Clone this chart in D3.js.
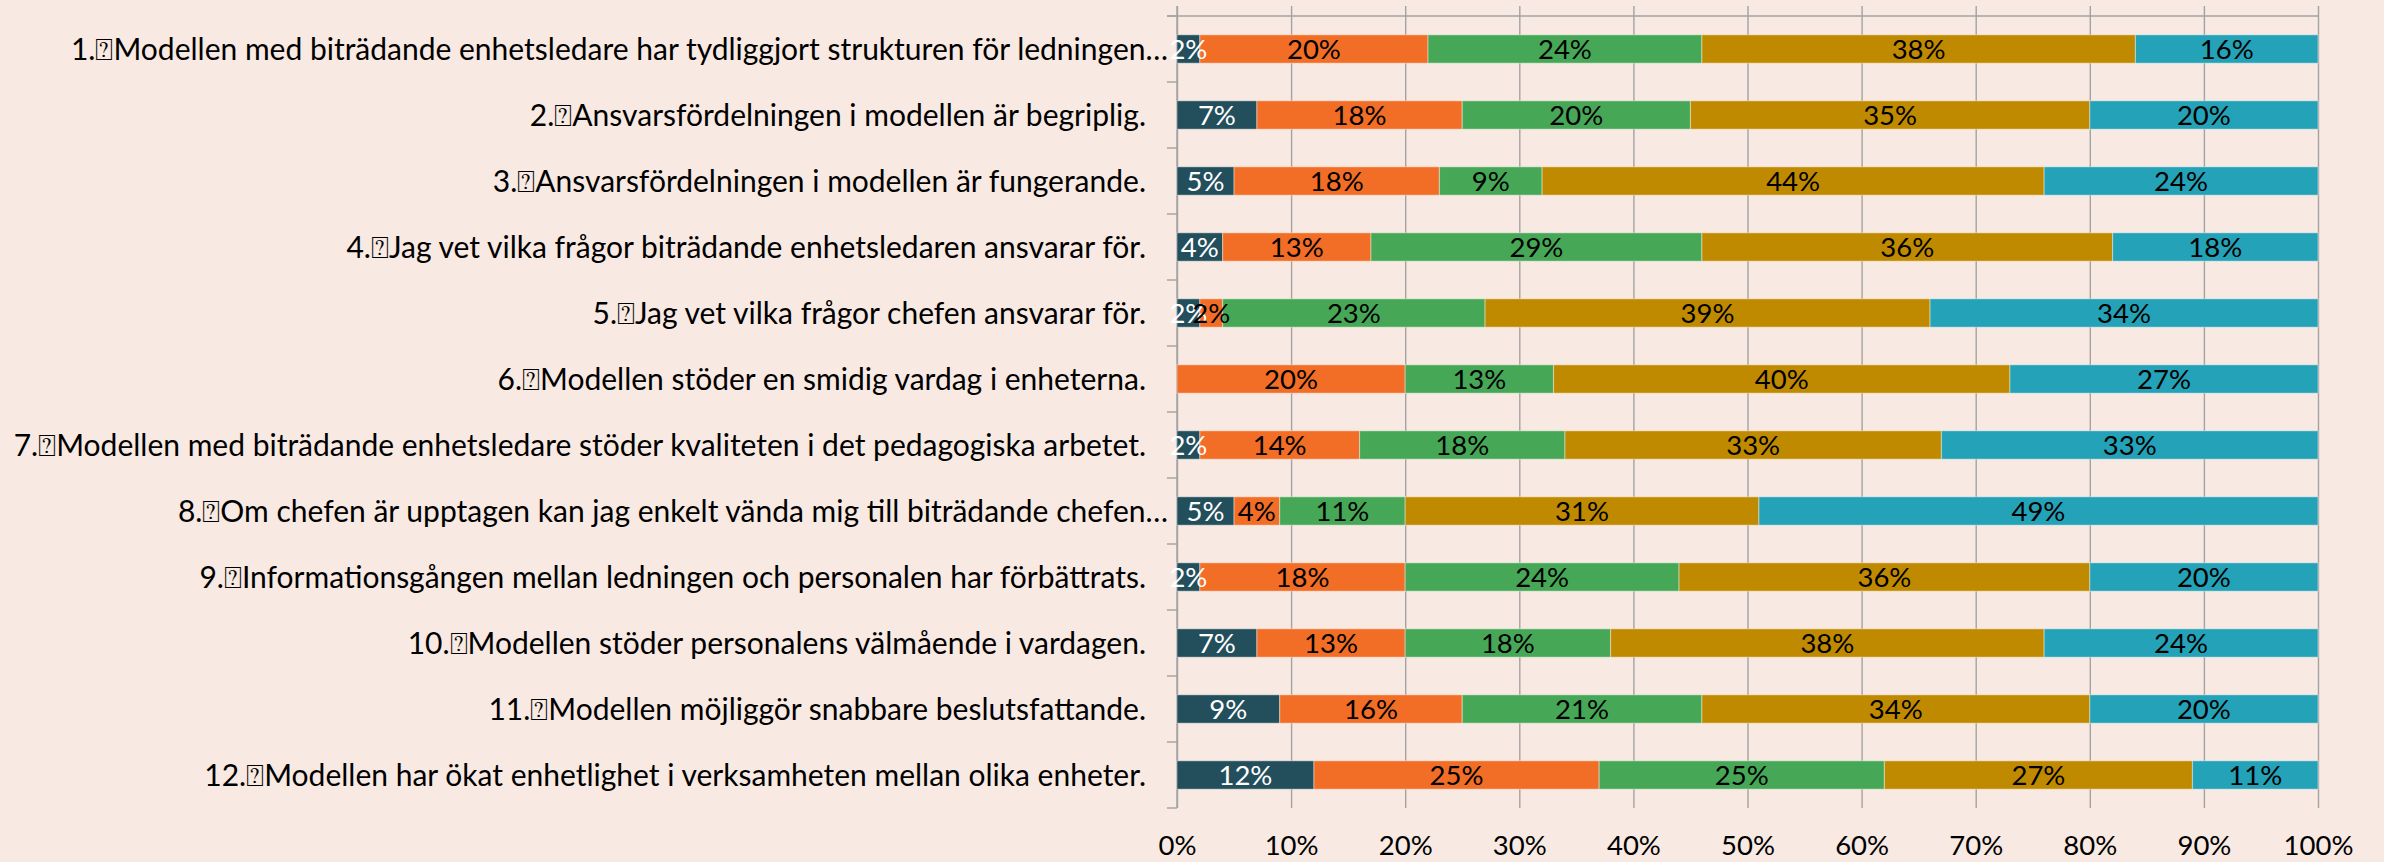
<!DOCTYPE html>
<html>
<head>
<meta charset="utf-8">
<script src="https://cdn.jsdelivr.net/npm/d3@7"></script>
<style>
  html, body { margin: 0; padding: 0; background: #F8E9E2; }
  svg { display: block; }
</style>
</head>
<body>
<svg id="chart" width="2384" height="862"></svg>
<script>
// ---- data ----
const categories = [
  "1.⍰Modellen med biträdande enhetsledare har tydliggjort strukturen för ledningen…",
  "2.⍰Ansvarsfördelningen i modellen är begriplig.",
  "3.⍰Ansvarsfördelningen i modellen är fungerande.",
  "4.⍰Jag vet vilka frågor biträdande enhetsledaren ansvarar för.",
  "5.⍰Jag vet vilka frågor chefen ansvarar för.",
  "6.⍰Modellen stöder en smidig vardag i enheterna.",
  "7.⍰Modellen med biträdande enhetsledare stöder kvaliteten i det pedagogiska arbetet.",
  "8.⍰Om chefen är upptagen kan jag enkelt vända mig till biträdande chefen…",
  "9.⍰Informationsgången mellan ledningen och personalen har förbättrats.",
  "10.⍰Modellen stöder personalens välmående i vardagen.",
  "11.⍰Modellen möjliggör snabbare beslutsfattande.",
  "12.⍰Modellen har ökat enhetlighet i verksamheten mellan olika enheter."
];
const series1 = [2, 7, 5, 4, 2, 0, 2, 5, 2, 7, 9, 12];
const series2 = [20, 18, 18, 13, 2, 20, 14, 4, 18, 13, 16, 25];
const series3 = [24, 20, 9, 29, 23, 13, 18, 11, 24, 18, 21, 25];
const series4 = [38, 35, 44, 36, 39, 40, 33, 31, 36, 38, 34, 27];
const series5 = [16, 20, 24, 18, 34, 27, 33, 49, 20, 24, 20, 11];
const xTicks = [0, 10, 20, 30, 40, 50, 60, 70, 80, 90, 100];

// ---- styles ----
const colors = ["#234E5C", "#F26D26", "#46A857", "#C08A00", "#24A2B7"];
const labelColors = ["#FFFFFF", "#000000", "#000000", "#000000", "#000000"];
const FONT = "Lato, 'Open Sans', sans-serif";
const FS_CAT = 30;
const FS_NUM = 27.5;
const GRID = "#A3A3A3";

const svg = d3.select("#chart");
const pLeft = 1177, pRight = 2318, pTop = 16, pBottom = 808;

const x = d3.scaleLinear().domain([0, 100]).range([pLeft, pRight]);
const y = d3.scaleBand().domain(categories).range([pTop, pBottom])
  .paddingInner(0.57).paddingOuter(0.285);

const allSeries = [series1, series2, series3, series4, series5];
const rows = categories.map((c, i) => {
  const r = { cat: c };
  allSeries.forEach((s, k) => r["s" + k] = s[i]);
  return r;
});
const keys = allSeries.map((s, k) => "s" + k);
const stacked = d3.stack().keys(keys)(rows);

// vertical gridlines
const gridAxis = d3.axisBottom(x).tickValues(xTicks).tickSize(pBottom - 6).tickFormat("");
const gG = svg.append("g").attr("transform", `translate(0,6)`).call(gridAxis);
gG.select(".domain").remove();
gG.selectAll("line").attr("stroke", GRID).attr("stroke-width", 1.4);

// top horizontal line
svg.append("line").attr("x1", pLeft - 10).attr("x2", pRight)
  .attr("y1", pTop).attr("y2", pTop).attr("stroke", GRID).attr("stroke-width", 1.4);

// left axis with ticks at band boundaries
const bounds = d3.range(categories.length + 1).map(i => pTop + i * y.step());
svg.append("line").attr("x1", pLeft).attr("x2", pLeft).attr("y1", 6).attr("y2", pBottom)
  .attr("stroke", GRID).attr("stroke-width", 1.4);
svg.append("g").selectAll("line").data(bounds).join("line")
  .attr("x1", pLeft - 10).attr("x2", pLeft).attr("y1", d => d).attr("y2", d => d)
  .attr("stroke", GRID).attr("stroke-width", 1.4);

// bars
const layers = svg.append("g").selectAll("g").data(stacked).join("g")
  .attr("fill", (d, k) => colors[k]);
layers.selectAll("rect").data(d => d.filter(p => p[1] - p[0] > 0)).join("rect")
  .attr("x", d => x(d[0]))
  .attr("width", d => x(d[1]) - x(d[0]))
  .attr("y", d => y(d.data.cat))
  .attr("height", y.bandwidth())
  .attr("stroke", "rgba(255,255,255,0.35)")
  .attr("stroke-width", 1.2);

// data labels
const lblG = svg.append("g").attr("font-family", FONT).attr("font-size", FS_NUM);
stacked.forEach((layer, k) => {
  lblG.append("g").selectAll("text").data(layer.filter(p => p[1] - p[0] > 0)).join("text")
    .attr("x", d => x((d[0] + d[1]) / 2))
    .attr("y", d => y(d.data.cat) + y.bandwidth() / 2)
    .attr("dy", "0.36em")
    .attr("text-anchor", "middle")
    .attr("fill", labelColors[k])
    .text(d => (d[1] - d[0]) + "%");
});

// category labels
svg.append("g").attr("font-family", FONT).attr("font-size", FS_CAT).attr("fill", "#000")
  .selectAll("text").data(categories).join("text")
  .attr("x", d => d.endsWith("…") ? pLeft - 9 : pLeft - 31)
  .attr("y", d => y(d) + y.bandwidth() / 2)
  .attr("dy", "0.36em")
  .attr("text-anchor", "end")
  .text(d => d);

// x axis tick labels
const xAxis = d3.axisBottom(x).tickValues(xTicks).tickSize(0).tickPadding(0)
  .tickFormat(d => d + "%");
const xg = svg.append("g").attr("transform", `translate(0,845)`).call(xAxis);
xg.select(".domain").remove();
xg.selectAll("text").attr("font-family", FONT).attr("font-size", FS_NUM)
  .attr("fill", "#000").attr("dy", "0.36em");
</script>
</body>
</html>
